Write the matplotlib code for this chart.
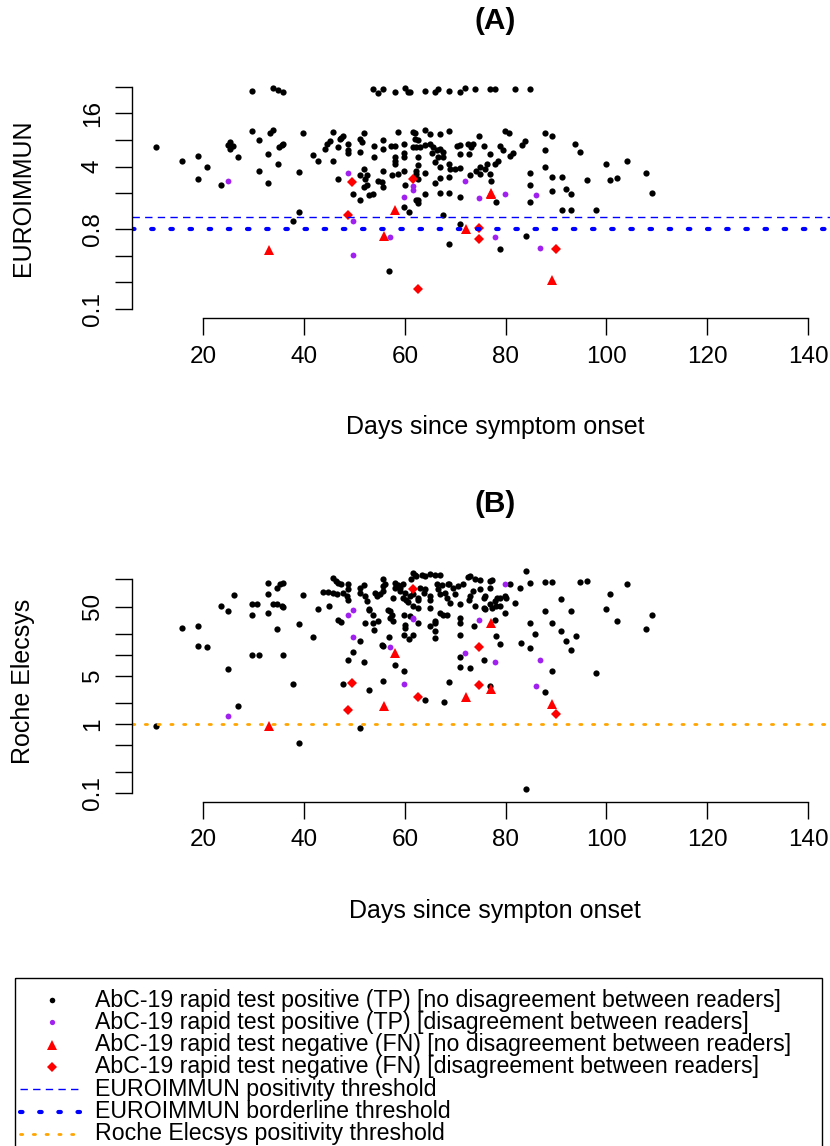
import matplotlib.pyplot as plt
import numpy as np
from matplotlib.ticker import NullLocator
from matplotlib.patches import Rectangle

plt.rcParams['font.family'] = ['Liberation Sans', 'DejaVu Sans']

# ---------------- data ----------------
# AbC-19 positive, no reader disagreement -- panel A (EUROIMMUN ratio)
tp_days_a = [10.6, 15.7, 18.9, 18.9, 20.8, 23.6, 25.0, 25.4, 25.8, 25.3, 26.8, 29.7, 29.7, 31.0,
             31.0, 32.8, 32.8, 33.2, 33.8, 33.9, 34.9, 35.8, 34.8, 35.0, 35.6, 35.9, 37.9, 38.9,
             38.9, 39.8, 41.7, 42.7, 44.2, 44.6, 45.1, 45.8, 45.8, 46.8, 46.8, 47.1, 47.8, 47.4,
             48.8, 48.8, 48.8, 49.7, 51.0, 51.1, 52.1, 52.4, 51.0, 51.4, 51.0, 51.9, 51.9, 52.4,
             51.9, 52.9, 53.6, 53.9, 53.9, 54.7, 55.4, 55.7, 55.7, 55.7, 55.7, 57.2, 58.0, 58.7,
             57.4, 58.0, 58.0, 58.0, 58.7, 59.8, 59.8, 59.8, 59.8, 60.0, 59.8, 60.9, 61.7, 62.3,
             62.3, 62.3, 56.9, 54.7, 53.6, 55.7, 58.0, 60.0, 60.6, 61.0, 64.0, 66.0, 66.6, 68.8,
             70.9, 71.9, 73.9, 76.9, 77.9, 81.8, 84.9, 62.0, 64.0, 65.0, 67.0, 68.8, 74.8, 79.8,
             80.7, 87.8, 89.1, 62.0, 62.7, 61.7, 63.0, 64.0, 65.0, 65.6, 66.3, 67.0, 67.6, 65.3,
             66.6, 67.6, 70.3, 70.9, 70.9, 72.6, 73.2, 73.6, 72.8, 75.6, 76.9, 78.9, 79.5, 80.8,
             81.5, 83.2, 83.8, 62.7, 62.7, 64.0, 66.0, 67.0, 68.8, 68.9, 69.9, 70.9, 74.2, 74.9,
             75.9, 76.2, 77.9, 78.5, 75.0, 76.9, 62.2, 62.7, 66.0, 67.0, 68.8, 72.9, 77.0, 64.0,
             62.7, 62.7, 67.0, 68.8, 70.9, 78.1, 87.8, 87.8, 93.7, 94.7, 99.9, 104.0, 96.1, 100.7,
             102.0, 107.8, 109.1, 84.9, 84.9, 84.9, 89.1, 91.1, 89.1, 92.0, 93.0, 91.1, 93.0, 98.0,
             67.6, 70.9, 68.8, 78.9, 84.0]
tp_euro = [6.6, 4.7, 5.3, 2.9, 4.0, 2.5, 7.0, 7.5, 6.8, 6.4, 5.1, 28.2, 10.0, 8.1,
           3.6, 5.5, 2.6, 9.6, 10.5, 30.9, 29.6, 28.0, 4.3, 6.6, 7.0, 7.3, 0.97, 3.5,
           1.25, 9.6, 5.4, 4.6, 6.4, 7.3, 7.8, 9.8, 4.7, 6.6, 2.9, 8.3, 8.8, 8.5,
           7.3, 6.2, 5.7, 1.97, 1.67, 3.2, 2.9, 3.2, 8.3, 7.6, 5.9, 9.6, 3.8, 2.5,
           2.36, 1.9, 1.97, 6.8, 5.2, 2.8, 2.7, 2.36, 7.9, 6.4, 3.6, 6.8, 6.8, 9.8,
           3.2, 5.1, 4.7, 4.3, 3.35, 5.7, 5.1, 7.3, 3.6, 2.5, 1.4, 1.23, 9.8, 6.7,
           3.6, 1.67, 0.27, 27.0, 29.7, 29.7, 28.0, 30.4, 28.0, 28.0, 28.5, 27.5, 29.7, 28.5,
           28.0, 30.4, 29.7, 29.7, 29.7, 29.7, 29.7, 9.6, 10.5, 9.3, 9.3, 10.1, 8.8, 10.1,
           9.6, 9.6, 8.8, 8.3, 7.9, 6.7, 6.6, 7.0, 7.3, 6.6, 6.2, 6.4, 5.9, 5.7,
           5.1, 5.1, 6.8, 7.0, 5.6, 7.2, 6.6, 7.3, 5.5, 6.8, 5.6, 6.8, 6.2, 5.3,
           5.7, 7.0, 7.8, 5.1, 4.2, 3.4, 4.5, 4.0, 4.3, 3.8, 3.8, 3.9, 3.6, 4.0,
           3.8, 4.3, 4.3, 4.7, 3.35, 3.35, 3.35, 2.9, 2.6, 3.0, 3.06, 3.2, 2.75, 1.97,
           1.67, 1.56, 2.04, 2.04, 1.82, 1.6, 6.1, 4.0, 7.2, 5.9, 4.3, 4.7, 2.85, 2.85,
           3.0, 3.4, 2.04, 3.4, 2.5, 1.6, 3.1, 3.1, 2.13, 2.26, 1.97, 1.29, 1.29, 1.29,
           1.16, 0.9, 0.54, 0.48, 0.67]

# AbC-19 positive, no reader disagreement -- panel B (Roche Elecsys COI)
tp_days_b = [10.6, 15.7, 18.9, 18.9, 20.8, 23.6, 25.0, 26.0, 25.0, 26.8, 29.7, 30.7, 29.7, 29.7,
             31.0, 32.8, 32.8, 32.8, 34.7, 34.6, 35.2, 35.9, 33.9, 34.7, 35.6, 35.9, 35.8, 37.9,
             38.9, 39.8, 38.9, 41.7, 42.7, 43.8, 44.8, 45.8, 46.5, 44.9, 45.8, 46.3, 46.8, 47.4,
             47.8, 48.5, 48.8, 48.8, 48.8, 46.8, 47.4, 51.0, 49.7, 48.8, 51.9, 47.8, 52.9, 51.0,
             55.7, 58.0, 59.8, 55.7, 56.9, 60.9, 51.0, 51.1, 51.8, 52.1, 52.4, 52.9, 53.7, 54.1,
             54.4, 55.1, 55.7, 55.7, 55.7, 56.7, 57.4, 57.7, 58.0, 58.7, 59.0, 59.7, 60.0, 60.2,
             60.7, 60.0, 60.0, 61.0, 61.7, 62.3, 62.6, 53.7, 54.7, 52.1, 52.8, 59.9, 53.9, 55.5,
             56.1, 58.0, 59.0, 57.7, 59.7, 57.0, 57.0, 59.8, 84.0, 84.0, 84.9, 87.8, 89.1, 94.7,
             96.1, 104.0, 100.7, 99.9, 102.1, 107.8, 109.1, 91.0, 93.0, 87.8, 84.9, 89.1, 85.9, 91.0,
             93.9, 92.0, 93.0, 83.0, 84.9, 89.1, 98.0, 87.8, 64.0, 67.8, 68.8, 70.9, 70.9, 72.9,
             75.7, 76.9, 78.1, 78.9, 73.8, 70.9, 66.0, 66.0, 81.8, 79.8, 61.7, 62.0, 63.3, 64.0,
             65.0, 66.0, 67.0, 66.3, 67.3, 67.9, 67.0, 68.3, 68.8, 69.6, 70.6, 71.6, 72.6, 72.9,
             73.9, 74.9, 76.9, 77.2, 76.9, 74.9, 73.6, 72.9, 72.8, 73.9, 70.9, 68.9, 65.0, 62.7,
             62.7, 65.0, 67.0, 67.6, 69.9, 75.9, 76.9, 77.9, 78.9, 79.8, 78.9, 80.8, 82.8, 61.3,
             63.0, 64.0, 61.7, 61.0, 62.7, 66.0, 75.9, 77.9, 78.1, 63.7, 65.0, 66.6, 68.6, 70.9,
             68.3, 65.0, 61.7, 66.0, 70.9, 75.6, 78.2, 80.1, 77.2, 75.6]
tp_roche = [0.92, 25, 26.6, 13.7, 12.9, 51, 43, 73.7, 6.2, 1.79, 55.6, 54.3, 38.6, 10.0,
            10.0, 112, 77.6, 40.8, 23.7, 95, 106, 112, 54.3, 55.6, 52, 50, 10.0, 3.8,
            0.52, 73.7, 28, 18.1, 47, 83, 83, 80, 76, 51, 133, 118, 112, 106,
            80, 73, 63.5, 91.6, 106, 31.8, 30.2, 15.7, 11.2, 8.45, 8.0, 3.8, 3.1, 0.87,
            4.2, 7.1, 5.8, 13.6, 18.1, 17, 95, 80, 103, 71.5, 60, 46, 38.6, 80,
            71.5, 76, 126, 100, 85, 45.6, 38.6, 30.7, 112, 103, 95, 106, 80, 63.5,
            58, 27.5, 24.5, 71.5, 51, 140, 63.5, 29, 30.7, 29, 45.6, 38.6, 23, 14,
            106, 95, 84.5, 67.5, 67.5, 43, 34.4, 19.6, 166, 0.112, 112, 114, 114, 114,
            118, 106, 77.6, 47, 30.7, 23.7, 38.6, 65, 43, 43, 29.6, 29.6, 20.3, 22.4,
            19, 16.2, 11.8, 14.8, 12.5, 5.8, 5.5, 2.9, 2.2, 2.07, 4.0, 9.5, 6.7, 6.4,
            8.45, 3.5, 19, 14.5, 26, 29.6, 22.4, 29, 57, 40.8, 155, 143, 145, 140,
            148, 143, 143, 106, 103, 80, 76, 67.5, 106, 95, 100, 106, 136, 140,
            128, 123, 118, 121, 95, 91.6, 86, 73, 63.5, 51, 54.3, 57, 63.5, 67.5,
            48, 48, 40.8, 38.6, 76, 71.5, 54.3, 60, 67.5, 71.5, 51, 106, 95, 126,
            95, 91.6, 76, 36.5, 29, 30.7, 47, 32.5, 51, 80, 71.5, 90, 106, 34.4,
            38.6, 26, 19.6, 17.5, 19.6, 67.5, 67.5, 67.5, 48, 48]

# AbC-19 positive, readers disagreed (same samples in both panels)
tpd_days = [25.0, 48.8, 49.7, 49.7, 57.0, 59.8, 61.7, 61.7, 71.9, 74.8, 77.9, 79.8, 86.0, 86.8]
tpd_euro = [2.76, 3.4, 0.97, 0.41, 0.64, 1.82, 2.4, 2.2, 2.76, 1.79, 0.64, 1.98, 1.9, 0.49]
tpd_roche = [1.29, 38.6, 45.6, 18.1, 12.9, 3.76, 34.4, 33.0, 10.6, 32.5, 8.0, 108, 3.6, 8.4]

# AbC-19 negative, no reader disagreement
fn_days = [33.1, 55.9, 58.0, 72.1, 77.1, 77.1, 89.1, 145.3]
fn_euro = [0.46, 0.67, 1.3, 0.79, 1.98, 2.0, 0.21, 1.9]
fn_roche = [0.94, 1.79, 10.8, 2.45, 3.25, 29, 1.96, 8.65]

# AbC-19 negative, readers disagreed
fnd_days = [48.8, 49.6, 61.7, 62.7, 74.8, 74.8, 90.0]
fnd_euro = [1.16, 2.7, 2.9, 0.17, 0.82, 0.61, 0.48]
fnd_roche = [1.57, 3.93, 91.6, 2.45, 12.9, 3.64, 1.37]

# thresholds
euro_positive = 1.1
euro_borderline = 0.8
roche_positive = 1.0

day_ticks = [20, 40, 60, 80, 100, 120, 140]
euro_ticks = [0.1, 0.2, 0.4, 0.8, 2, 4, 8, 16, 32]
euro_labels = ['0.1', '', '', '0.8', '', '4', '', '16', '']
roche_ticks = [0.1, 0.2, 0.5, 1, 2, 5, 10, 20, 50, 125]
roche_labels = ['0.1', '', '', '1', '', '5', '', '', '50', '']

legend_labels = ['AbC-19 rapid test positive (TP) [no disagreement between readers]',
                 'AbC-19 rapid test positive (TP) [disagreement between readers]',
                 'AbC-19 rapid test negative (FN) [no disagreement between readers]',
                 'AbC-19 rapid test negative (FN) [disagreement between readers]',
                 'EUROIMMUN positivity threshold',
                 'EUROIMMUN borderline threshold',
                 'Roche Elecsys positivity threshold']

PURPLE = '#A020F0'
ORANGE = '#FFA500'

# line styles for the thresholds (dash patterns are in units of line width)
POS_STYLE = dict(color='blue', lw=1.0, linestyle=(0, (5.3, 3.8)))
BORDER_STYLE = dict(color='blue', lw=3.0, linestyle=(0, (0.6, 4.0)), dash_capstyle='round')
ROCHE_STYLE = dict(color=ORANGE, lw=2.0, linestyle=(0, (0.8, 3.8)), dash_capstyle='round')

# ---------------- figure ----------------
W, H = 830, 1146
fig = plt.figure(figsize=(W / 100, H / 100), dpi=100)


def px_box(left, top, right, bottom):
    return [left / W, 1 - bottom / H, (right - left) / W, (bottom - top) / H]


def r_limits(lo, hi):
    # R style 4% padding on a log axis
    pad = np.log10(hi / lo) * 0.04
    return lo / 10 ** pad, hi * 10 ** pad


ax_a = fig.add_axes(px_box(131.7, 77.6, 858, 318))
ax_b = fig.add_axes(px_box(131.7, 561.3, 858, 801.7))


def style_axis(ax, yticks, ylabels, ylim, ylabel, xlabel, title):
    ax.set_yscale('log')
    ax.set_xlim(5.8, 149.9)
    ax.set_ylim(*r_limits(*ylim))
    ax.set_xticks(day_ticks)
    ax.set_xticklabels([str(d) for d in day_ticks])
    ax.set_yticks(yticks)
    ax.set_yticklabels(ylabels)
    ax.yaxis.set_minor_locator(NullLocator())
    ax.spines['top'].set_visible(False)
    ax.spines['right'].set_visible(False)
    ax.spines['left'].set_bounds(yticks[0], yticks[-1])
    ax.spines['bottom'].set_bounds(day_ticks[0], day_ticks[-1])
    for s in ['left', 'bottom']:
        ax.spines[s].set_linewidth(1.0)
    ax.tick_params(length=12, width=1.0, labelsize=17.5, pad=8)
    ax.tick_params(axis='y', labelrotation=90)
    for lab in ax.get_yticklabels():
        lab.set_va('center')
    ax.set_xlabel(xlabel, fontsize=18)
    ax.xaxis.label.set_va('center')
    ax.xaxis.set_label_coords(0.5, -0.454)
    ax.set_ylabel(ylabel, fontsize=18)
    ax.yaxis.label.set_va('center')
    ax.yaxis.set_label_coords(-0.1497, 0.5)
    ax.text(0.5, 1.237, title, transform=ax.transAxes, ha='center', va='center',
            fontsize=21.5, fontweight='bold')
    ax.patch.set_alpha(0)


def draw_points(ax, tp_y, tp_x, tpd_y, fn_y, fnd_y):
    ax.plot(tp_x, tp_y, 'o', color='black', ms=4.5, mew=0)
    ax.plot(tpd_days, tpd_y, 'o', color=PURPLE, ms=4.2, mew=0)
    ax.plot(fn_days, fn_y, '^', color='red', ms=7.5, mew=0)
    ax.plot(fnd_days, fnd_y, 'D', color='red', ms=5.2, mew=0)


# (A) EUROIMMUN
draw_points(ax_a, tp_euro, tp_days_a, tpd_euro, fn_euro, fnd_euro)
ax_a.axhline(euro_positive, **POS_STYLE)
ax_a.axhline(euro_borderline, **BORDER_STYLE)
style_axis(ax_a, euro_ticks, euro_labels, (0.1, 32), 'EUROIMMUN',
           'Days since symptom onset', '(A)')

# (B) Roche Elecsys
draw_points(ax_b, tp_roche, tp_days_b, tpd_roche, fn_roche, fnd_roche)
ax_b.axhline(roche_positive, **ROCHE_STYLE)
style_axis(ax_b, roche_ticks, roche_labels, (0.1, 170), 'Roche Elecsys',
           'Days since sympton onset', '(B)')

# ---------------- legend (drawn in pixel coordinates, R style box) ----------------
leg = fig.add_axes([0, 0, 1, 1])
leg.set_xlim(0, W)
leg.set_ylim(H, 0)
leg.axis('off')
leg.add_patch(Rectangle((15, 978), 807, 220, fill=False, edgecolor='black', lw=1.0))

row_y = [1000 + 22.3 * i for i in range(len(legend_labels))]
leg.plot([52], [row_y[0]], 'o', color='black', ms=4.0, mew=0)
leg.plot([52], [row_y[1]], 'o', color=PURPLE, ms=3.8, mew=0)
leg.plot([52], [row_y[2]], '^', color='red', ms=7.0, mew=0)
leg.plot([52], [row_y[3]], 'D', color='red', ms=5.0, mew=0)
leg.plot([20, 82], [row_y[4]] * 2, **POS_STYLE)
leg.plot([20, 82], [row_y[5]] * 2, **BORDER_STYLE)
leg.plot([20, 82], [row_y[6]] * 2, **ROCHE_STYLE)
for y, lab in zip(row_y, legend_labels):
    leg.text(95, y, lab, fontsize=16.7, va='center', ha='left')

fig.savefig('out.png', dpi=100)
